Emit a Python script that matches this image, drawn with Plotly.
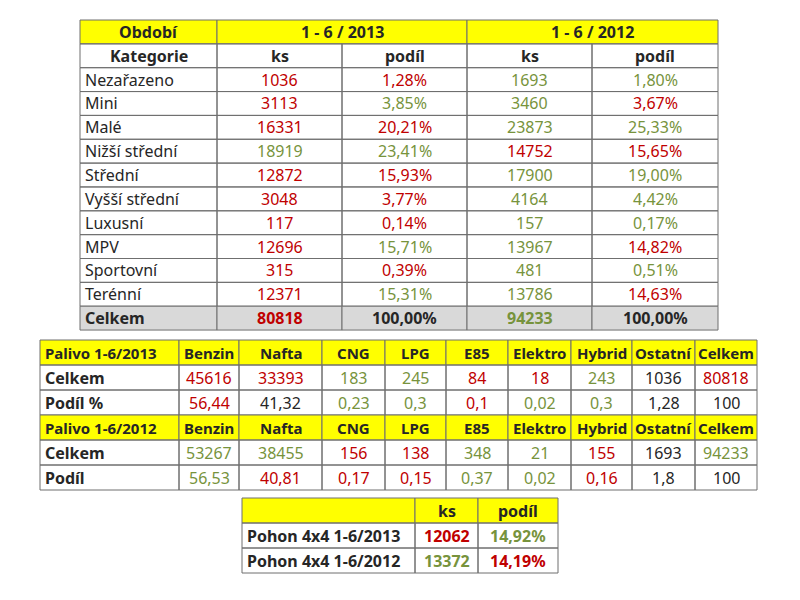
import plotly.graph_objects as go

RED = "#C00000"; GRN = "#77933C"; BLK = "#262626"; YEL = "#FFFF00"; GRY = "#D9D9D9"
CM = {"r": RED, "g": GRN, "k": BLK}

# Table 1
t1_head1 = ["Období", "1 - 6 / 2013", "1 - 6 / 2012"]
t1_head2 = ["Kategorie", "ks", "podíl", "ks", "podíl"]
t1_cats = ["Nezařazeno", "Mini", "Malé", "Nižší střední", "Střední", "Vyšší střední",
           "Luxusní", "MPV", "Sportovní", "Terénní"]
ks2013 = [1036, 3113, 16331, 18919, 12872, 3048, 117, 12696, 315, 12371]
pod2013 = ["1,28%", "3,85%", "20,21%", "23,41%", "15,93%", "3,77%", "0,14%", "15,71%", "0,39%", "15,31%"]
ks2012 = [1693, 3460, 23873, 14752, 17900, 4164, 157, 13967, 481, 13786]
pod2012 = ["1,80%", "3,67%", "25,33%", "15,65%", "19,00%", "4,42%", "0,17%", "14,82%", "0,51%", "14,63%"]
t1_colors = ["rrgg", "rggr", "rrgg", "ggrr", "rrgg", "rrgg", "rrgg", "rggr", "rrgg", "rggr"]
t1_total = ["Celkem", "80818", "100,00%", "94233", "100,00%"]
t1_total_colors = "krkgk"

# Table 2
fuels = ["Benzin", "Nafta", "CNG", "LPG", "E85", "Elektro", "Hybrid", "Ostatní", "Celkem"]
f2013 = [45616, 33393, 183, 245, 84, 18, 243, 1036, 80818]
s2013 = ["56,44", "41,32", "0,23", "0,3", "0,1", "0,02", "0,3", "1,28", "100"]
f2012 = [53267, 38455, 156, 138, 348, 21, 155, 1693, 94233]
s2012 = ["56,53", "40,81", "0,17", "0,15", "0,37", "0,02", "0,16", "1,8", "100"]
c_f2013 = "rrggrrgkr"; c_s2013 = "rkggrggkk"
c_f2012 = "ggrrggrkg"; c_s2012 = "grrrggrkk"

# Table 3
t3_head = ["", "ks", "podíl"]
t3_rows = ["Pohon 4x4 1-6/2013", "Pohon 4x4 1-6/2012"]
t3_ks = [12062, 13372]
t3_pod = ["14,92%", "14,19%"]
t3_colors = ["rg", "gr"]

shapes, anns = [], []
FONT = "Noto Sans"

def cell(x0, x1, y0, y1, text, color=BLK, fill=None, bold=False, align="center", size=16):
    shapes.append(dict(type="rect", x0=x0, x1=x1, y0=y0, y1=y1, xref="x", yref="y",
                       line=dict(color="#6f6f6f", width=1), fillcolor=fill or "rgba(0,0,0,0)", layer="below"))
    if text != "":
        t = f"<b>{text}</b>" if bold else str(text)
        x = x0 + 3 if align == "left" else (x0 + x1) / 2
        anns.append(dict(x=x, y=(y0 + y1) / 2, xref="x", yref="y", text=t, showarrow=False,
                         xanchor="left" if align == "left" else "center", yanchor="middle",
                         font=dict(family=FONT, size=size, color=color)))

# Table 1 layout
X1 = [80, 217, 342, 467, 592, 718]
top = 20; rh = 23.85
ys = [top + i * rh for i in range(14)]
cell(X1[0], X1[1], ys[0], ys[1], t1_head1[0], fill=YEL, bold=True)
cell(X1[1], X1[3], ys[0], ys[1], t1_head1[1], fill=YEL, bold=True)
cell(X1[3], X1[5], ys[0], ys[1], t1_head1[2], fill=YEL, bold=True)
for j, h in enumerate(t1_head2):
    cell(X1[j], X1[j + 1], ys[1], ys[2], h, bold=True)
for i, c in enumerate(t1_cats):
    vals = [ks2013[i], pod2013[i], ks2012[i], pod2012[i]]
    cell(X1[0], X1[1], ys[i + 2], ys[i + 3], c, align="left")
    for j, v in enumerate(vals):
        cell(X1[j + 1], X1[j + 2], ys[i + 2], ys[i + 3], v, color=CM[t1_colors[i][j]])
for j, v in enumerate(t1_total):
    cell(X1[j], X1[j + 1], ys[12], ys[13], v, color=CM[t1_total_colors[j]], fill=GRY, bold=True,
         align="left" if j == 0 else "center")

# Table 2 layout
X2 = [40, 179, 239, 322, 385, 446, 508, 571, 632, 695, 757]
Y2 = [340, 365, 390, 415, 440, 465, 490]
blocks = [("Palivo 1-6/2013", "Podíl %", f2013, s2013, c_f2013, c_s2013),
          ("Palivo 1-6/2012", "Podíl", f2012, s2012, c_f2012, c_s2012)]
for b, (title, sl, fv, sv, cf, cs) in enumerate(blocks):
    r0 = b * 3
    cell(X2[0], X2[1], Y2[r0], Y2[r0 + 1], title, fill=YEL, bold=True, align="left", size=15)
    for j, f in enumerate(fuels):
        cell(X2[j + 1], X2[j + 2], Y2[r0], Y2[r0 + 1], f, fill=YEL, bold=True, size=15)
    cell(X2[0], X2[1], Y2[r0 + 1], Y2[r0 + 2], "Celkem", bold=True, align="left")
    cell(X2[0], X2[1], Y2[r0 + 2], Y2[r0 + 3], sl, bold=True, align="left")
    for j in range(len(fuels)):
        cell(X2[j + 1], X2[j + 2], Y2[r0 + 1], Y2[r0 + 2], fv[j], color=CM[cf[j]])
        cell(X2[j + 1], X2[j + 2], Y2[r0 + 2], Y2[r0 + 3], sv[j], color=CM[cs[j]])

# Table 3 layout
X3 = [242, 415, 478, 558]
Y3 = [498, 523, 548, 573]
for j, h in enumerate(t3_head):
    cell(X3[j], X3[j + 1], Y3[0], Y3[1], h, fill=YEL, bold=True)
for i, r in enumerate(t3_rows):
    cell(X3[0], X3[1], Y3[i + 1], Y3[i + 2], r, bold=True, align="left")
    cell(X3[1], X3[2], Y3[i + 1], Y3[i + 2], t3_ks[i], color=CM[t3_colors[i][0]], bold=True)
    cell(X3[2], X3[3], Y3[i + 1], Y3[i + 2], t3_pod[i], color=CM[t3_colors[i][1]], bold=True)

fig = go.Figure()
fig.update_layout(width=800, height=600, margin=dict(l=0, r=0, t=0, b=0),
                  paper_bgcolor="white", plot_bgcolor="white",
                  xaxis=dict(range=[8, 808], visible=False, fixedrange=True),
                  yaxis=dict(range=[608, 8], visible=False, fixedrange=True),
                  shapes=shapes, annotations=anns, showlegend=False)
fig.write_html("out.html")
